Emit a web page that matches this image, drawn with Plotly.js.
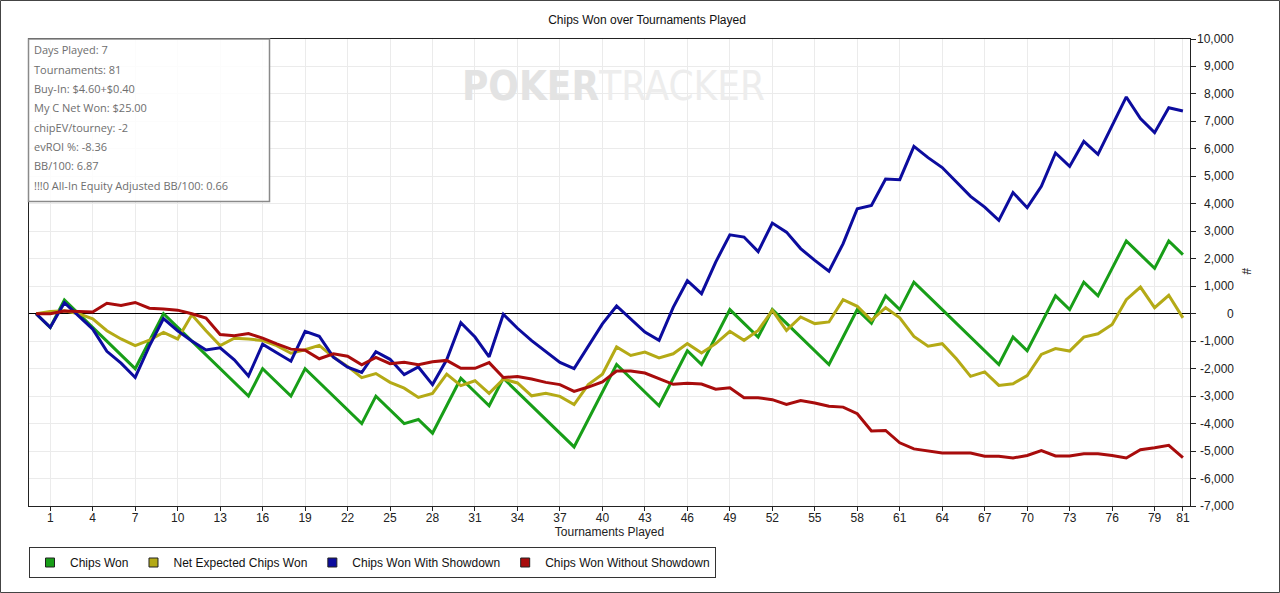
<!DOCTYPE html>
<html>
<head>
<meta charset="utf-8">
<script src="https://cdn.plot.ly/plotly-3.0.1.min.js"></script>
<style>
  html, body { margin: 0; padding: 0; background: #fff; }
  #chart { width: 1280px; height: 593px; }
</style>
</head>
<body>
<div id="chart"></div>
<script>
// values per tournament, index 0 is the starting point
var chipsWon = [0, -500, 500, 0, -500, -1000, -1500, -2000, -1000, 0,
  -500, -1000, -1500, -2000, -2500, -3000, -2000, -2500, -3000, -2000,
  -2500, -3000, -3500, -4000, -3000, -3500, -4000, -3850, -4350, -3350,
  -2350, -2850, -3350, -2350, -2850, -3350, -3850, -4350, -4850, -3850,
  -2850, -1850, -2350, -2850, -3350, -2350, -1350, -1850, -850, 150,
  -350, -850, 150, -350, -850, -1350, -1850, -850, 150, -350,
  650, 150, 1150, 650, 150, -350, -850, -1350, -1850, -850,
  -1350, -350, 650, 150, 1150, 650, 1650, 2650, 2150, 1650,
  2650, 2150];

var netExpected = [0, 80, 110, 0, -190, -620, -920, -1160, -960, -680,
  -920, -40, -620, -1160, -890, -920, -980, -1160, -1440, -1310,
  -1150, -1580, -1920, -2330, -2180, -2500, -2710, -3050, -2900, -2200,
  -2620, -2440, -2900, -2380, -2520, -2990, -2900, -3010, -3310, -2580,
  -2200, -1210, -1520, -1400, -1610, -1460, -1090, -1430, -1090, -640,
  -970, -610, 120, -610, -120, -360, -300, 510, 270, -240,
  220, -150, -830, -1180, -1090, -1640, -2280, -2120, -2610, -2550,
  -2250, -1480, -1270, -1360, -850, -730, -390, 510, 970, 220,
  670, -150];

var withShowdown = [0, -500, 400, -70, -560, -1370, -1800, -2320, -1180, -180,
  -620, -990, -1320, -1240, -1680, -2270, -1110, -1420, -1730, -640,
  -820, -1580, -1950, -2140, -1380, -1660, -2220, -1940, -2580, -1680,
  -330, -850, -1570, -20, -530, -980, -1370, -1770, -2000, -1170,
  -370, 280, -180, -670, -970, 230, 1200, 730, 1880, 2870,
  2790, 2260, 3300, 2970, 2370, 1940, 1550, 2550, 3820, 3940,
  4900, 4880, 6090, 5680, 5320, 4790, 4270, 3880, 3400, 4410,
  3860, 4640, 5850, 5360, 6270, 5800, 6860, 7890, 7100, 6590,
  7500, 7380];

var withoutShowdown = [0, 0, 100, 70, 60, 380, 300, 410, 200, 170,
  130, 0, -160, -760, -800, -720, -890, -1100, -1290, -1330,
  -1640, -1460, -1550, -1860, -1590, -1820, -1770, -1860, -1750, -1700,
  -1990, -1990, -1780, -2320, -2290, -2380, -2500, -2580, -2830, -2670,
  -2480, -2090, -2090, -2160, -2370, -2570, -2530, -2560, -2750, -2700,
  -3060, -3060, -3130, -3300, -3160, -3250, -3370, -3400, -3640, -4270,
  -4250, -4700, -4920, -5000, -5070, -5070, -5070, -5190, -5190, -5250,
  -5160, -4980, -5180, -5180, -5100, -5100, -5160, -5250, -4950, -4880,
  -4790, -5240];

var seriesNames = ['Chips Won', 'Net Expected Chips Won', 'Chips Won With Showdown', 'Chips Won Without Showdown'];
var xTicks = [1, 4, 7, 10, 13, 16, 19, 22, 25, 28, 31, 34, 37, 40, 43, 46, 49, 52, 55, 58, 61, 64, 67, 70, 73, 76, 79, 81];
var yTicks = [10000, 9000, 8000, 7000, 6000, 5000, 4000, 3000, 2000, 1000, 0,
  -1000, -2000, -3000, -4000, -5000, -6000, -7000];
var statLines = ['Days Played: 7', 'Tournaments: 81', 'Buy-In: $4.60+$0.40', 'My C Net Won: $25.00',
  'chipEV/tourney: -2', 'evROI %: -8.36', 'BB/100: 6.87', '!!!0 All-In Equity Adjusted BB/100: 0.66'];

var colors = ['rgb(24,158,24)', 'rgb(180,170,22)', 'rgb(12,12,158)', 'rgb(168,12,12)'];
var allSeries = [chipsWon, netExpected, withShowdown, withoutShowdown];

var data = [];
for (var i = 0; i < allSeries.length; i++) {
  data.push({
    x: allSeries[i].map(function (v, k) { return k; }),
    y: allSeries[i],
    type: 'scatter',
    mode: 'lines',
    name: seriesNames[i],
    showlegend: false,
    hoverinfo: 'skip',
    line: { color: colors[i], width: 3 }
  });
}
// square legend swatches
for (var i = 0; i < allSeries.length; i++) {
  data.push({
    x: [null],
    y: [null],
    type: 'scatter',
    mode: 'markers',
    name: seriesNames[i],
    marker: { symbol: 'square', size: 9, color: colors[i], line: { color: '#222', width: 1 } }
  });
}

// plot area in pixels: left 29, right 1190, top 39, bottom 506
var PL = 29, PR = 1190, PT = 39, PB = 506;
function px(x) { return (x - PL) / (PR - PL); }
function py(y) { return (PB - y) / (PB - PT); }

var annotations = [];
for (var k = 0; k < statLines.length; k++) {
  annotations.push({
    xref: 'paper', yref: 'paper',
    x: px(32), y: py(50 + 19.3 * k),
    xanchor: 'left', yanchor: 'middle',
    text: statLines[k],
    showarrow: false,
    font: { family: 'Open Sans, sans-serif', size: 11, color: '#6e6e6e' }
  });
}
for (var k = 0; k < yTicks.length; k++) {
  annotations.push({
    xref: 'paper', yref: 'y',
    x: px(1236), y: yTicks[k],
    xanchor: 'right', yanchor: 'middle',
    text: yTicks[k].toLocaleString('en-US'),
    showarrow: false,
    font: { family: 'Liberation Sans, Arial, sans-serif', size: 12, color: '#222' }
  });
}
annotations.push({
  xref: 'paper', yref: 'paper',
  x: px(1246), y: py(271),
  xanchor: 'center', yanchor: 'middle',
  text: '#', textangle: 90,
  showarrow: false,
  font: { family: 'Liberation Sans, Arial, sans-serif', size: 12, color: '#222' }
});
annotations.push({
  xref: 'paper', yref: 'paper',
  x: px(613), y: py(86),
  xanchor: 'center', yanchor: 'middle',
  text: '<b>POKER</b><span style="color:#ededed">TRACKER</span>',
  showarrow: false,
  font: { family: 'Liberation Sans Narrow, DejaVu Sans Condensed, sans-serif', size: 40, color: '#e3e3e3' }
});

var layout = {
  width: 1280,
  height: 593,
  paper_bgcolor: '#fff',
  plot_bgcolor: '#fff',
  margin: { l: PL, r: 1280 - PR, t: PT, b: 593 - PB, autoexpand: false },
  title: {
    text: 'Chips Won over Tournaments Played',
    x: 647 / 1280, xanchor: 'center',
    y: 1 - 20 / 593, yanchor: 'middle',
    font: { family: 'Liberation Sans, Arial, sans-serif', size: 12, color: '#111' }
  },
  xaxis: {
    range: [-0.5, 81.5],
    tickmode: 'array',
    tickvals: xTicks,
    ticktext: xTicks.map(String),
    ticks: 'outside', ticklen: 4, tickcolor: '#222',
    ticklabelstandoff: -3,
    showgrid: true, gridcolor: '#ebebeb',
    showline: true, linecolor: '#222', linewidth: 1, mirror: true,
    zeroline: false,
    tickfont: { family: 'Liberation Sans, Arial, sans-serif', size: 12, color: '#222' },
    title: {
      text: 'Tournaments Played', standoff: 2,
      font: { family: 'Liberation Sans, Arial, sans-serif', size: 12, color: '#222' }
    }
  },
  yaxis: {
    side: 'right',
    range: [-7000, 10000],
    tickmode: 'array',
    tickvals: yTicks,
    showticklabels: false,
    ticks: 'outside', ticklen: 5, tickcolor: '#222',
    showgrid: true, gridcolor: '#ebebeb',
    showline: true, linecolor: '#222', linewidth: 1, mirror: true,
    zeroline: true, zerolinecolor: '#000', zerolinewidth: 1
  },
  showlegend: true,
  legend: {
    orientation: 'h',
    x: px(29), xanchor: 'left',
    y: py(547), yanchor: 'top',
    bordercolor: '#333', borderwidth: 1,
    bgcolor: '#fff',
    itemwidth: 30,
    font: { family: 'Liberation Sans, Arial, sans-serif', size: 12, color: '#111' }
  },
  shapes: [
    {
      type: 'rect', xref: 'paper', yref: 'paper',
      x0: px(28.5), x1: px(269.5), y0: py(201.5), y1: py(39),
      line: { color: '#8a8a8a', width: 1.5 },
      fillcolor: 'rgba(255,255,255,0.85)'
    },
    {
      type: 'rect', xref: 'paper', yref: 'paper',
      x0: px(0.5), x1: px(1279.5), y0: py(592.5), y1: py(0.5),
      line: { color: '#444', width: 1 }
    }
  ],
  annotations: annotations,
  hovermode: false
};

Plotly.newPlot('chart', data, layout, { displayModeBar: false, staticPlot: true });
</script>
</body>
</html>
